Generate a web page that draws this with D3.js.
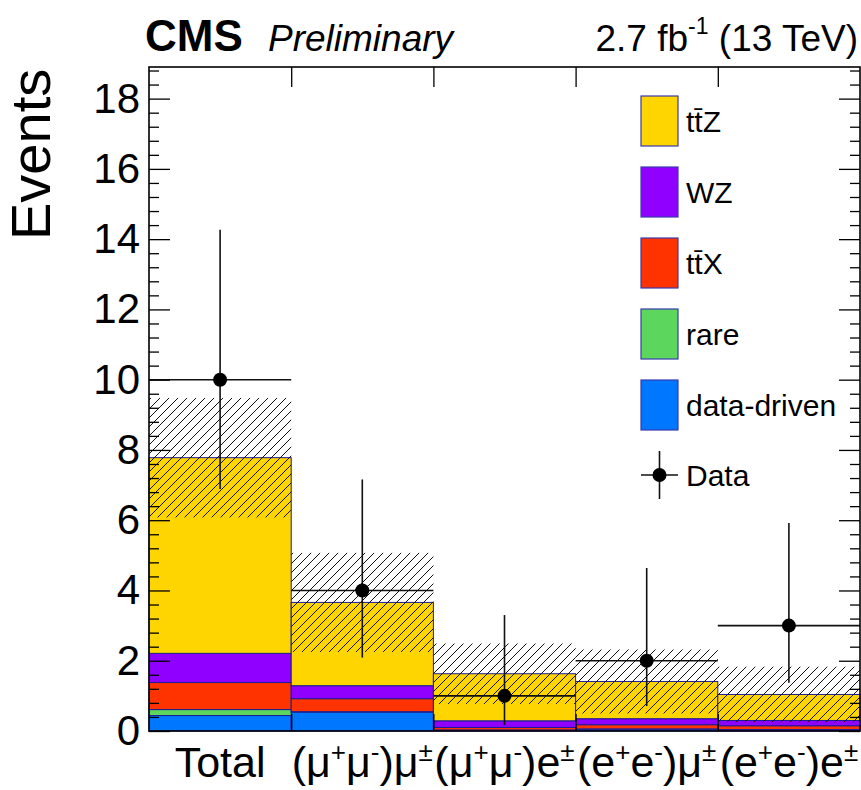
<!DOCTYPE html>
<html>
<head>
<meta charset="utf-8">
<script src="https://cdn.jsdelivr.net/npm/d3@7"></script>
<style>
  body { margin: 0; background: white; }
  svg text { font-family: "Liberation Sans", Arial, Helvetica, sans-serif; fill: black; }
</style>
</head>
<body>
<svg id="chart" width="861" height="790"></svg>
<script>
/************************************************************/
/**
    data
*/
const categories = ["Total", "(μ^+μ^-)μ^±", "(μ^+μ^-)e^±", "(e^+e^-)μ^±", "(e^+e^-)e^±"];

// stack, bottom to top
const dataDriven = [0.44, 0.54, 0.02, 0.05, 0.03];
const rare       = [0.17, 0.01, 0.01, 0.01, 0.01];
const ttX        = [0.77, 0.37, 0.07, 0.12, 0.11];
const wz         = [0.83, 0.37, 0.19, 0.17, 0.15];
const ttZ        = [5.57, 2.37, 1.34, 1.06, 0.74];

// total uncertainty (hatched band, symmetric)
const bkgUnc     = [1.70, 1.41, 0.86, 0.91, 0.79];

// observed events with poisson intervals
const observed   = [10, 4, 1, 2, 3];
const obsLow     = [6.89, 2.09, 0.17, 0.71, 1.37];
const obsHigh    = [14.27, 7.16, 3.30, 4.64, 5.92];

const yTicks = [0, 2, 4, 6, 8, 10, 12, 14, 16, 18];

const seriesKeys   = ["dataDriven", "rare", "ttX", "wz", "ttZ"];
const seriesColors = { dataDriven: "#0077ff", rare: "#5cd65c", ttX: "#ff3300", wz: "#8f00ff", ttZ: "#ffd500" };
const legendLabels = [["ttZ", "tt\u0304Z"], ["wz", "WZ"], ["ttX", "tt\u0304X"], ["rare", "rare"], ["dataDriven", "data-driven"]];

/************************************************************/
/**
    frame + scales
*/
const svg = d3.select('#chart');
const frameL = 149, frameR = 860, frameT = 67, frameB = 731;

const x = d3.scaleLinear().domain([0, categories.length]).range([frameL, frameR]);
const y = d3.scaleLinear().domain([0, 18.9]).range([frameB, frameT]);

const table = categories.map((c, i) => ({
    i: i, dataDriven: dataDriven[i], rare: rare[i], ttX: ttX[i], wz: wz[i], ttZ: ttZ[i]
}));
const stacked = d3.stack().keys(seriesKeys)(table);

const defs = svg.append('defs');
const pat = defs.append('pattern')
    .attr('id', 'hatch').attr('patternUnits', 'userSpaceOnUse')
    .attr('width', 9).attr('height', 9);
pat.append('path')
    .attr('d', 'M0,9 L9,0 M-1,1 L1,-1 M8,10 L10,8')
    .attr('stroke', '#111').attr('stroke-width', 1);

/************************************************************/
/**
    stacked histogram
*/
const stackG = svg.append('g');
stacked.forEach(layer => {
    stackG.append('g').selectAll('rect')
        .data(layer)
        .join('rect')
        .attr('x', d => x(d.data.i))
        .attr('width', x(1) - x(0))
        .attr('y', d => y(d[1]))
        .attr('height', d => Math.max(0, y(d[0]) - y(d[1])))
        .attr('fill', seriesColors[layer.key])
        .attr('stroke', '#1c1c96')
        .attr('stroke-width', 1);
});

// uncertainty band
const totals = table.map((d, i) => d3.sum(seriesKeys, k => d[k]));
svg.append('g').selectAll('rect')
    .data(totals)
    .join('rect')
    .attr('x', (d, i) => x(i))
    .attr('width', x(1) - x(0))
    .attr('y', (d, i) => y(d + bkgUnc[i]))
    .attr('height', (d, i) => y(d - bkgUnc[i]) - y(d + bkgUnc[i]))
    .attr('fill', 'url(#hatch)');

/************************************************************/
/**
    data points
*/
const dataG = svg.append('g');
observed.forEach((n, i) => {
    dataG.append('line')
        .attr('x1', x(i)).attr('x2', x(i + 1)).attr('y1', y(n)).attr('y2', y(n))
        .attr('stroke', '#111').attr('stroke-width', 1.6);
    dataG.append('line')
        .attr('x1', x(i + 0.5)).attr('x2', x(i + 0.5)).attr('y1', y(obsLow[i])).attr('y2', y(obsHigh[i]))
        .attr('stroke', '#111').attr('stroke-width', 1.6);
    dataG.append('circle')
        .attr('cx', x(i + 0.5)).attr('cy', y(n)).attr('r', 7).attr('fill', 'black');
});

/************************************************************/
/**
    axes (ROOT style: ticks inside, on all sides)
*/
const minorTicks = d3.range(0, 18.9, 0.4).filter(v => Math.abs(v / 2 - Math.round(v / 2)) > 1e-6);

svg.append('g').attr('transform', `translate(${frameL},0)`)
    .call(d3.axisLeft(y).tickValues(minorTicks).tickSize(-10).tickFormat(''))
    .call(g => g.select('.domain').remove());
const yAxis = svg.append('g').attr('transform', `translate(${frameL},0)`)
    .call(d3.axisLeft(y).tickValues(yTicks).tickSize(-21).tickPadding(9).tickFormat(d3.format('d')))
    .call(g => g.select('.domain').remove());
yAxis.selectAll('text').attr('font-size', 42).attr('font-family', '"Liberation Sans", Arial, sans-serif').attr('fill', 'black');

svg.append('g').attr('transform', `translate(${frameR},0)`)
    .call(d3.axisRight(y).tickValues(minorTicks).tickSize(-10).tickFormat(''))
    .call(g => g.select('.domain').remove());
svg.append('g').attr('transform', `translate(${frameR},0)`)
    .call(d3.axisRight(y).tickValues(yTicks).tickSize(-21).tickFormat(''))
    .call(g => g.select('.domain').remove());

const binEdges = d3.range(1, categories.length);
svg.append('g').attr('transform', `translate(0,${frameT})`)
    .call(d3.axisTop(x).tickValues(binEdges).tickSize(-20).tickFormat(''))
    .call(g => g.select('.domain').remove());
svg.append('g').attr('transform', `translate(0,${frameB})`)
    .call(d3.axisBottom(x).tickValues(binEdges).tickSize(-17).tickFormat(''))
    .call(g => g.select('.domain').remove());

svg.selectAll('.tick line').attr('stroke', 'black').attr('stroke-width', 1.3);

svg.append('rect')
    .attr('x', frameL).attr('y', frameT).attr('width', frameR - frameL).attr('height', frameB - frameT)
    .attr('fill', 'none').attr('stroke', 'black').attr('stroke-width', 1.6);

// x category labels, "^c" = superscript char
const xl = svg.append('g');
categories.forEach((c, i) => {
    const t = xl.append('text')
        .attr('x', x(i + 0.5)).attr('y', 777)
        .attr('text-anchor', 'middle').attr('font-size', 43);
    const parts = c.split(/(\^.)/).filter(s => s.length);
    parts.forEach(p => {
        if (p[0] === '^') {
            t.append('tspan').attr('font-size', 26).attr('baseline-shift', '60%').text(p[1]);
        } else {
            t.append('tspan').text(p);
        }
    });
});

svg.append('text')
    .attr('transform', 'translate(50,240) rotate(-90)')
    .attr('font-size', 56)
    .text('Events');

/************************************************************/
/**
    header
*/
svg.append('text').attr('x', 145).attr('y', 51).attr('font-size', 44).attr('font-weight', 'bold').text('CMS');
svg.append('text').attr('x', 268).attr('y', 51).attr('font-size', 37).attr('font-style', 'italic').text('Preliminary');
const lumi = svg.append('text').attr('x', 858).attr('y', 51).attr('text-anchor', 'end').attr('font-size', 37);
lumi.append('tspan').text('2.7 fb');
lumi.append('tspan').attr('font-size', 23).attr('baseline-shift', '75%').text('-1');
lumi.append('tspan').text(' (13 TeV)');

/************************************************************/
/**
    legend
*/
const leg = svg.append('g');
legendLabels.forEach((e, j) => {
    const y0 = 96 + j * 71;
    leg.append('rect')
        .attr('x', 641).attr('y', y0).attr('width', 37).attr('height', 50)
        .attr('fill', seriesColors[e[0]]).attr('stroke', '#3a3ab0').attr('stroke-width', 1.2);
    leg.append('text')
        .attr('x', 686).attr('y', y0 + 36).attr('font-size', 30).text(e[1]);
});
const dy = 96 + 5 * 71 + 24;
leg.append('line').attr('x1', 641).attr('x2', 678).attr('y1', dy).attr('y2', dy).attr('stroke', '#111').attr('stroke-width', 1.6);
leg.append('line').attr('x1', 659.5).attr('x2', 659.5).attr('y1', dy - 24).attr('y2', dy + 24).attr('stroke', '#111').attr('stroke-width', 1.6);
leg.append('circle').attr('cx', 659.5).attr('cy', dy).attr('r', 7).attr('fill', 'black');
leg.append('text').attr('x', 686).attr('y', dy + 11).attr('font-size', 30).text('Data');
</script>
</body>
</html>
